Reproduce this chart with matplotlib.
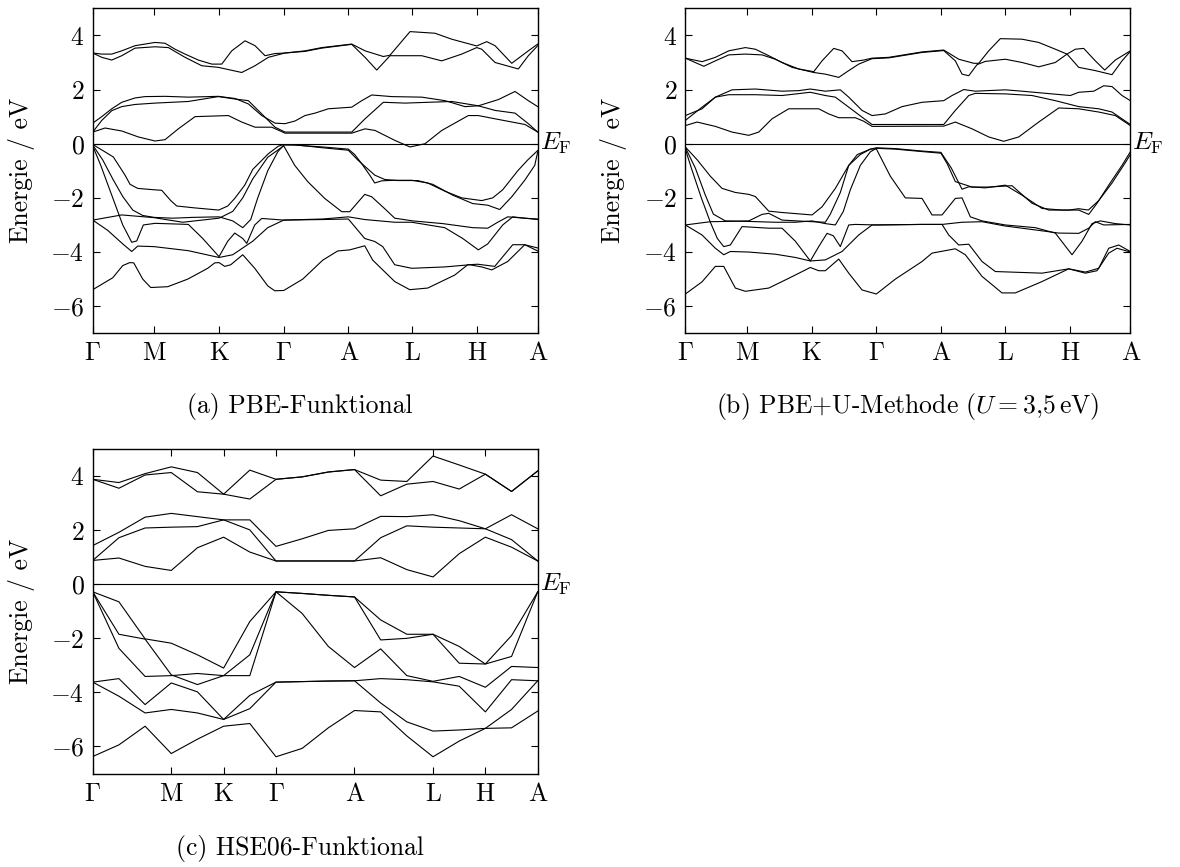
import matplotlib
matplotlib.use('Agg')
import matplotlib.pyplot as plt
import matplotlib.transforms as mtransforms

plt.rcParams['font.family'] = 'cmr10'
plt.rcParams['mathtext.fontset'] = 'cm'
plt.rcParams['axes.formatter.use_mathtext'] = True
plt.rcParams['font.size'] = 18.5

# Hochsymmetriepunkte (Pfadlaenge, willkuerliche Einheiten)
K_LABELS = [r'$\Gamma$', 'M', 'K', r'$\Gamma$', 'A', 'L', 'H', 'A']
K_PBE = [0, 61.3, 126.3, 191, 255.6, 319.6, 384.3, 445]
K_HSE = [0, 3, 5, 7, 10, 13, 15, 17]
Y_TICKS = [-6, -4, -2, 0, 2, 4]

# ---------------- (a) PBE: Baender als (k, E) ----------------
pbe_c_top_hi = [(0, 3.35), (9, 3.31), (19, 3.31), (29, 3.43), (42.3, 3.62), (62.3, 3.74), (72.3, 3.71),
                (82.3, 3.49), (92.3, 3.31), (105.6, 3.09), (119, 2.94), (129, 2.94), (139, 3.43),
                (152.3, 3.80), (162.3, 3.62), (172.3, 3.25), (182.3, 3.33), (192.3, 3.35), (212.3, 3.43),
                (229, 3.55), (259, 3.68), (272.3, 3.43), (290.6, 3.22), (297.3, 3.27), (317.3, 4.14),
                (342.3, 4.08), (359, 3.86), (384, 3.61), (394, 3.77), (402.3, 3.62), (419, 2.97),
                (435.6, 3.43), (445, 3.68)]
pbe_c_top_lo = [(0, 3.35), (9, 3.19), (19, 3.09), (29, 3.25), (42.3, 3.53), (62.3, 3.58), (75.6, 3.55),
                (92.3, 3.19), (109, 2.88), (125.6, 2.82), (149, 2.63), (162.3, 2.88), (175.6, 3.19),
                (192.3, 3.35), (212.3, 3.41), (229, 3.53), (259, 3.67), (272.3, 3.19), (284, 2.72),
                (297.3, 3.25), (329, 3.25), (349, 3.06), (369, 3.31), (384, 3.55), (389, 3.49),
                (402.3, 3.0), (425.6, 2.76), (435.6, 3.25), (445, 3.62)]
pbe_c_mid3 = [(0, 0.76), (9, 1.00), (19, 1.29), (29, 1.53), (42.3, 1.69), (52.3, 1.74), (72.3, 1.75),
              (95.6, 1.72), (125.6, 1.75), (142.3, 1.67), (155.6, 1.47), (169, 1.04), (182.3, 0.76),
              (192.3, 0.74), (202.3, 0.84), (212.3, 1.04), (222.3, 1.13), (235.6, 1.29), (259, 1.35),
              (269, 1.59), (279, 1.80), (299, 1.74), (329, 1.72), (352.3, 1.59), (372.3, 1.37),
              (385.6, 1.40), (405.6, 1.63), (422.3, 1.93), (435.6, 1.59), (445, 1.37)]
pbe_c_mid2 = [(0, 0.43), (9, 0.86), (19, 1.22), (29, 1.37), (42.3, 1.45), (62.3, 1.50), (95.6, 1.56),
              (125.6, 1.74), (142.3, 1.65), (155.6, 1.59), (169, 1.10), (182.3, 0.61), (192.3, 0.43),
              (259, 0.43), (272.3, 0.92), (290.6, 1.53), (312.3, 1.50), (359, 1.56), (385.6, 1.40),
              (402.3, 1.23), (422.3, 1.13), (435.6, 0.74), (445, 0.43)]
pbe_c_mid1 = [(0, 0.43), (12.3, 0.58), (29, 0.47), (45.6, 0.25), (62.3, 0.10), (72.3, 0.15), (85.6, 0.55),
              (102.3, 1.0), (135.6, 1.04), (149, 0.80), (162.3, 0.61), (179, 0.61), (192.3, 0.39),
              (259, 0.39), (272.3, 0.55), (282.3, 0.49), (302.3, 0.12), (317.3, -0.12), (332.3, 0.0),
              (349, 0.49), (375.6, 1.04), (385.6, 1.04), (402.3, 0.92), (432.3, 0.71), (445, 0.43)]

pbe_v1 = [(0, -0.03), (10, -0.25), (20.6, -0.49), (32.3, -1.16), (37.3, -1.5), (45, -1.65), (61, -1.7),
          (69, -1.72), (78, -2.1), (84, -2.3), (102, -2.37), (126, -2.45), (135, -2.3), (142, -2.02),
          (152, -1.53), (160, -0.95), (175.6, -0.37), (185.6, -0.09), (191, -0.03), (202, -0.05),
          (230, -0.12), (255.6, -0.2), (262, -0.4), (269, -0.74), (277, -1.16), (282, -1.45), (289, -1.37),
          (302, -1.35), (319, -1.35), (335, -1.45), (352, -1.75), (369, -2.0), (389, -2.1), (400, -2.0),
          (410, -1.7), (425, -1.0), (435, -0.6), (445, -0.25)]
pbe_v2 = [(0, -0.05), (10, -0.6), (20, -1.3), (30, -1.95), (40, -2.45), (50, -2.65), (61.3, -2.72),
          (80, -2.75), (100, -2.72), (126.3, -2.7), (140, -2.85), (150, -3.1), (158, -2.8), (165, -2.0),
          (175, -1.0), (185, -0.3), (191, -0.05), (202, -0.04), (230, -0.15), (255.6, -0.24), (265, -0.6),
          (282, -1.16), (292, -1.32), (305, -1.36), (325, -1.36), (340, -1.5), (360, -1.9), (380, -2.21),
          (395, -2.27), (407, -2.43), (419, -1.96), (432, -1.35), (442, -0.8), (445, -0.3)]
pbe_v3 = [(0, -0.08), (8, -0.8), (20, -2.0), (30, -3.0), (39, -3.64), (44, -3.59), (50.6, -3.0),
          (62.3, -2.94), (95.6, -2.98), (110, -3.5), (126.3, -4.17), (135, -3.6), (142, -3.3), (150, -3.5),
          (154, -3.68), (162, -3.0), (169, -2.76), (191, -2.82), (230, -2.8), (255.6, -2.78), (272, -3.5),
          (282, -3.61), (290, -3.8), (302, -4.47), (319, -4.6), (352, -4.55), (377, -4.47), (389, -4.55),
          (399, -4.66), (415, -4.35), (432, -3.73), (445, -3.96)]
pbe_v4 = [(0, -2.82), (29, -2.63), (61.3, -2.73), (90, -2.9), (126.3, -2.75), (140, -2.5), (150, -2.0),
          (160, -1.3), (175, -0.5), (191, -0.08), (202, -0.8), (215, -1.4), (232, -2.02), (249, -2.51),
          (257, -2.51), (272, -1.87), (279, -1.96), (292, -2.4), (302, -2.75), (320, -2.85), (350, -2.95),
          (380, -3.1), (395, -3.12), (405, -2.9), (415, -2.7), (432, -2.75), (445, -2.78)]
pbe_v5 = [(0, -2.82), (15, -3.2), (30, -3.7), (39, -3.98), (45, -3.78), (61.3, -3.8), (95.6, -3.95),
          (120, -4.15), (126.3, -4.2), (140, -4.1), (160, -3.6), (175, -3.1), (191, -2.82), (230, -2.78),
          (255.6, -2.7), (272, -2.8), (302, -2.9), (319, -2.9), (352, -3.1), (370, -3.5), (385.6, -3.92),
          (395, -3.7), (410, -3.0), (420, -2.7), (432, -2.75), (445, -2.8)]
pbe_v6 = [(0, -5.39), (20, -4.95), (30, -4.5), (37, -4.39), (41, -4.4), (50, -5.0), (58, -5.31), (75, -5.28),
          (95, -5.0), (115, -4.6), (122, -4.4), (126.3, -4.39), (132, -4.53), (138, -4.47), (150, -4.1),
          (162, -4.6), (175, -5.25), (182, -5.43), (191, -5.42), (210, -5.0), (230, -4.3), (245, -3.96),
          (257, -3.92), (272, -3.77), (280, -4.3), (302, -5.09), (317, -5.39), (335, -5.33), (362, -4.85),
          (375, -4.47), (385, -4.45), (402, -4.53), (420, -3.73), (432, -3.73), (445, -3.85)]

# ---------------- (b) PBE+U ----------------
pbeu_c_top_hi = [(0, 3.16), (16.7, 3.03), (30, 3.19), (43.4, 3.43), (60, 3.55), (70, 3.49), (83.4, 3.25),
                 (96.7, 3.0), (113.4, 2.76), (128.4, 2.66), (136.7, 3.06), (148.4, 3.52), (156.7, 3.43),
                 (166.7, 3.03), (178.4, 3.09), (186.7, 3.16), (203.4, 3.19), (223.4, 3.31), (236.7, 3.39),
                 (258.4, 3.46), (273.4, 3.12), (288.4, 2.97), (293.4, 2.97), (303.4, 3.43), (315, 3.88),
                 (336.7, 3.86), (353.4, 3.74), (370, 3.49), (381.7, 3.31), (390, 3.49), (398.4, 3.52),
                 (410, 3.06), (419.4, 2.72), (430, 3.09), (445, 3.43)]
pbeu_c_top_lo = [(0, 3.16), (18.4, 2.86), (30, 3.06), (43.4, 3.28), (60, 3.31), (76.7, 3.28), (90, 3.12),
                 (106.7, 2.82), (128.4, 2.63), (140, 2.57), (153.4, 2.45), (163.4, 2.70), (173.4, 2.94),
                 (186.7, 3.14), (203.4, 3.17), (223.4, 3.29), (236.7, 3.37), (258.4, 3.44), (270, 3.06),
                 (276.7, 2.57), (283.4, 2.51), (291.7, 2.92), (300, 3.04), (320, 3.12), (336.7, 3.0),
                 (353.4, 2.84), (370, 3.0), (381.7, 3.31), (393.4, 2.82), (410, 2.70), (426.7, 2.55),
                 (436.7, 3.06), (445, 3.41)]
pbeu_c_mid3 = [(0, 1.04), (16.7, 1.29), (30, 1.72), (46.7, 1.99), (70, 2.02), (96.7, 1.94), (113.4, 1.96),
               (125, 2.02), (140, 1.94), (155, 1.99), (163.4, 1.72), (176.7, 1.23), (186.7, 1.04),
               (200, 1.10), (216.7, 1.37), (236.7, 1.53), (258.4, 1.59), (266.7, 1.78), (278.4, 2.0),
               (290, 1.94), (320, 1.99), (336.7, 1.94), (366.7, 1.84), (385, 1.78), (393.4, 1.90),
               (408.4, 1.94), (418.4, 2.14), (426.7, 2.11), (436.7, 1.78), (445, 1.59)]
pbeu_c_mid2 = [(0, 0.86), (16.7, 1.35), (30, 1.72), (43.4, 1.81), (70, 1.81), (96.7, 1.78), (125, 1.90),
               (140, 1.78), (150, 1.72), (163.4, 1.35), (176.7, 0.98), (186.7, 0.71), (258.4, 0.71),
               (270, 1.23), (283.4, 1.78), (290, 1.86), (320, 1.84), (346.7, 1.78), (370, 1.59),
               (393.4, 1.37), (413.4, 1.29), (426.7, 1.17), (445, 0.71)]
pbeu_c_mid1 = [(0, 0.67), (11.7, 0.80), (30, 0.64), (46.7, 0.43), (63.4, 0.31), (73.4, 0.43), (86.7, 0.92),
               (103.4, 1.29), (133.4, 1.29), (143.4, 1.10), (153.4, 0.96), (170, 0.96), (178.4, 0.83),
               (186.7, 0.64), (258.4, 0.65), (270, 0.80), (286.7, 0.55), (303.4, 0.25), (318.4, 0.09),
               (333.4, 0.25), (353.4, 0.80), (373.4, 1.32), (393.4, 1.29), (413.4, 1.17), (430, 1.04),
               (445, 0.67)]

pbeu_v1 = [(0, -0.12), (12, -0.6), (25, -1.2), (36.7, -1.65), (50, -1.8), (63.4, -1.87), (70, -1.95),
           (83.4, -2.49), (96.7, -2.54), (126.7, -2.63), (136.7, -2.33), (150, -1.65), (163.4, -0.8),
           (175, -0.4), (185, -0.2), (191, -0.15), (210, -0.18), (236.7, -0.27), (255.6, -0.32), (266, -0.9),
           (276.7, -1.68), (283.4, -1.59), (300, -1.63), (320, -1.53), (336.7, -1.9), (356.7, -2.39),
           (376.7, -2.45), (393.4, -2.45), (403.4, -2.61), (411.7, -2.2), (423.4, -1.53), (436.7, -0.8),
           (445, -0.3)]
pbeu_v2 = [(0, -0.14), (10, -0.9), (20, -1.9), (28, -2.6), (40, -2.85), (63.4, -2.87), (90, -2.9),
           (110, -2.9), (126.7, -2.85), (140, -2.95), (150, -3.0), (158, -2.5), (165, -1.7), (175, -0.8),
           (185, -0.3), (191, -0.17), (210, -0.2), (236.7, -0.29), (255.6, -0.35), (262, -0.75), (270, -1.4),
           (286.7, -1.6), (303.4, -1.6), (326.7, -1.55), (346.7, -2.2), (363.4, -2.45), (383.4, -2.45),
           (393.4, -2.4), (403, -2.45), (413.4, -2.1), (426.7, -1.45), (440, -0.7), (445, -0.4)]
pbeu_v3 = [(0, -0.2), (6, -0.9), (16, -2.0), (25, -2.9), (32, -3.5), (38.4, -3.8), (45, -3.74),
           (56.7, -3.06), (83.4, -3.12), (96.7, -3.12), (110, -3.6), (125, -4.33), (133.4, -3.8),
           (141.7, -3.31), (148, -3.4), (155, -3.8), (163.4, -3.0), (170, -2.98), (191, -3.0), (236.7, -2.98),
           (256.7, -2.98), (263.4, -3.37), (273.4, -3.74), (283.4, -3.71), (296.7, -4.35), (310, -4.72),
           (356.7, -4.78), (383.4, -4.62), (400, -4.74), (413.4, -4.6), (423.4, -3.86), (433.4, -3.74),
           (445, -3.98)]
pbeu_v4 = [(0, -3.0), (25, -2.88), (40, -2.87), (63.4, -2.85), (76.7, -2.61), (83.4, -2.57), (96.7, -2.82),
           (126.7, -2.88), (140, -2.9), (145, -2.6), (155, -1.8), (163.4, -0.8), (172, -0.4), (185, -0.2),
           (191, -0.19), (205, -1.2), (220, -2.0), (236.7, -2.02), (246.7, -2.63), (256.7, -2.63),
           (261.7, -2.4), (270, -2.02), (276.7, -2.0), (285, -2.7), (296.7, -2.85), (320, -3.0), (350, -3.1),
           (370, -3.3), (386.7, -4.1), (396.7, -3.6), (406.7, -2.95), (415, -2.85), (430, -2.95), (445, -3.0)]
pbeu_v5 = [(0, -3.0), (16.7, -3.37), (30, -3.86), (38.4, -4.1), (45, -3.98), (63.4, -4.0), (90, -4.08),
           (110, -4.2), (125, -4.33), (140, -4.29), (156.7, -3.98), (173.4, -3.37), (186.7, -3.0),
           (191, -3.0), (236.7, -2.98), (256.7, -2.98), (276.7, -2.9), (296.7, -2.88), (320, -3.04),
           (353.4, -3.2), (373.4, -3.3), (393.4, -3.31), (403.4, -3.12), (410, -2.88), (418.4, -3.0),
           (445, -2.98)]
pbeu_v6 = [(0, -5.55), (16.7, -5.1), (30, -4.53), (38.4, -4.53), (50, -5.33), (60, -5.45), (83.4, -5.33),
           (103.4, -4.97), (125, -4.57), (133.4, -4.69), (140, -4.69), (153.4, -4.26), (163.4, -4.78),
           (176.7, -5.4), (191, -5.55), (210, -5.0), (236.7, -4.35), (246.7, -4.04), (270, -3.88),
           (280, -4.1), (296.7, -4.9), (316.7, -5.51), (330, -5.51), (356.7, -5.09), (383.4, -4.62),
           (400, -4.78), (411.7, -4.69), (423.4, -4.04), (431.7, -3.86), (445, -4.0)]

# ---------------- (c) HSE06: Energien an 18 k-Punkten ----------------
hse_c1 = [3.88, 3.76, 4.09, 4.34, 4.13, 3.33, 4.22, 3.88, 3.97, 4.15, 4.24, 3.85, 3.80, 4.74, 4.41, 4.07, 3.43, 4.19]
hse_c2 = [3.88, 3.55, 4.04, 4.13, 3.42, 3.33, 3.15, 3.88, 3.97, 4.15, 4.24, 3.27, 3.70, 3.80, 3.52, 4.07, 3.43, 4.19]
hse_c3 = [1.43, 1.92, 2.48, 2.62, 2.50, 2.38, 2.38, 1.40, 1.68, 1.99, 2.05, 2.51, 2.50, 2.57, 2.35, 2.05, 2.57, 2.05]
hse_c4 = [0.88, 1.72, 2.08, 2.11, 2.13, 2.38, 2.01, 0.86, 0.86, 0.86, 0.86, 1.72, 2.16, 2.11, 2.08, 2.05, 1.65, 0.86]
hse_c5 = [0.88, 0.97, 0.66, 0.51, 1.35, 1.74, 1.19, 0.86, 0.86, 0.86, 0.86, 0.98, 0.54, 0.27, 1.13, 1.74, 1.37, 0.86]
hse_v1 = [-0.28, -0.65, -2.02, -2.18, -2.61, -3.10, -1.38, -0.28, -0.34, -0.41, -0.47, -1.32, -1.85, -1.85, -2.30, -2.95, -1.90, -0.28]
hse_v2 = [-0.28, -1.85, -2.03, -3.35, -3.71, -3.38, -2.61, -0.28, -0.34, -0.41, -0.47, -2.06, -2.00, -1.85, -2.92, -2.95, -2.67, -0.28]
hse_v3 = [-0.28, -2.37, -3.41, -3.38, -3.30, -3.38, -3.38, -0.28, -1.08, -2.30, -3.08, -2.39, -3.38, -3.59, -3.41, -3.81, -3.04, -3.08]
hse_v4 = [-3.62, -3.49, -4.45, -3.65, -3.98, -5.00, -4.11, -3.62, -3.60, -3.58, -3.57, -3.49, -3.53, -3.61, -3.77, -4.72, -3.53, -3.57]
hse_v5 = [-3.62, -4.14, -4.76, -4.63, -4.76, -5.00, -4.60, -3.62, -3.60, -3.58, -3.57, -4.39, -5.09, -5.43, -5.39, -5.33, -4.63, -3.57]
hse_v6 = [-6.37, -5.94, -5.25, -6.26, -5.73, -5.25, -5.15, -6.38, -6.07, -5.31, -4.67, -4.72, -5.61, -6.38, -5.80, -5.33, -5.31, -4.69]

PBE_BANDS = [pbe_c_top_hi, pbe_c_top_lo, pbe_c_mid3, pbe_c_mid2, pbe_c_mid1,
             pbe_v1, pbe_v2, pbe_v3, pbe_v4, pbe_v5, pbe_v6]
PBEU_BANDS = [pbeu_c_top_hi, pbeu_c_top_lo, pbeu_c_mid3, pbeu_c_mid2, pbeu_c_mid1,
              pbeu_v1, pbeu_v2, pbeu_v3, pbeu_v4, pbeu_v5, pbeu_v6]
HSE_BANDS = [hse_c1, hse_c2, hse_c3, hse_c4, hse_c5, hse_v1, hse_v2, hse_v3, hse_v4, hse_v5, hse_v6]


def setup_axis(ax, kticks):
    ax.axhline(0, color='black', lw=0.8)
    ax.set_xlim(kticks[0], kticks[-1])
    ax.set_ylim(-7, 5)
    ax.set_xticks(kticks)
    ax.set_xticklabels(K_LABELS)
    ax.set_yticks(Y_TICKS)
    ax.set_ylabel('Energie / eV')
    ax.yaxis.set_label_coords(-0.13, 0.5)
    ax.tick_params(direction='in', top=True, right=True, length=5, width=0.8, pad=6)
    for sp in ax.spines.values():
        sp.set_linewidth(1.0)
    trans = mtransforms.blended_transform_factory(ax.transAxes, ax.transData)
    ax.text(1.004, 0, r'$E_{\mathrm{F}}$', transform=trans, ha='left', va='center')


fig = plt.figure(figsize=(11.8, 8.67), dpi=100)
ax_a = fig.add_axes([0.0786, 0.6156, 0.3771, 0.3748])
ax_b = fig.add_axes([0.5808, 0.6156, 0.3771, 0.3748])
ax_c = fig.add_axes([0.0786, 0.1078, 0.3771, 0.3743])

for ax, bands in [(ax_a, PBE_BANDS), (ax_b, PBEU_BANDS)]:
    for band in bands:
        ks = [p[0] for p in band]
        es = [p[1] for p in band]
        ax.plot(ks, es, color='black', lw=0.8)
    setup_axis(ax, K_PBE)

k_hse = list(range(18))
for band in HSE_BANDS:
    ax_c.plot(k_hse, band, color='black', lw=0.8)
setup_axis(ax_c, K_HSE)

fig.text(300 / 1180, 1 - 407 / 867, '(a) PBE-Funktional', ha='center', va='center')
fig.text(908 / 1180, 1 - 407 / 867, r'(b) PBE+U-Methode ($U = 3{,}5\,\mathrm{eV}$)', ha='center', va='center')
fig.text(300 / 1180, 1 - 848 / 867, '(c) HSE06-Funktional', ha='center', va='center')

fig.savefig('out.png', dpi=100)
